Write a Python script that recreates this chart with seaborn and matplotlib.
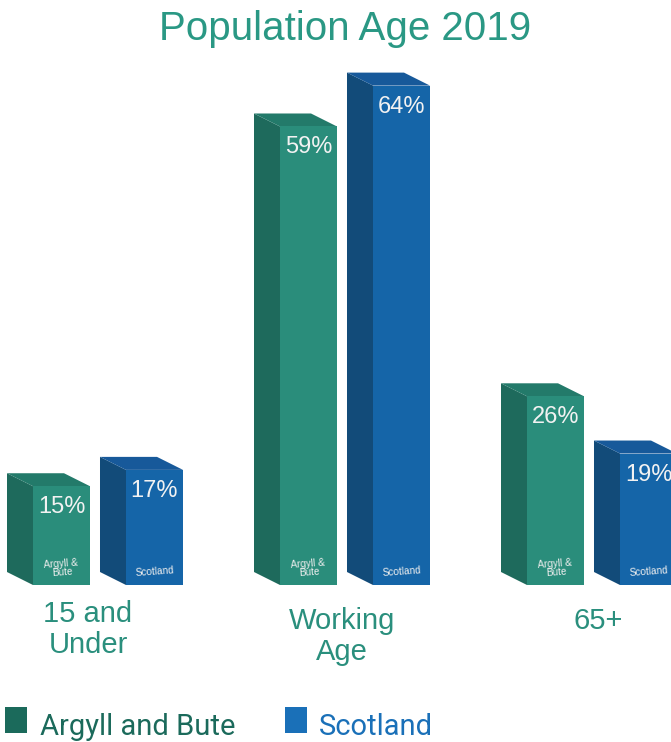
import matplotlib
matplotlib.use("Agg")
import matplotlib.pyplot as plt
from matplotlib.patches import Polygon, Rectangle
import numpy as np
import pandas as pd
import seaborn as sns

# ---- data -------------------------------------------------------------
age_groups = ["15 and\nUnder", "Working\nAge", "65+"]
regions = ["Argyll and Bute", "Scotland"]
argyll_values = [15, 59, 26]
scotland_values = [17, 64, 19]
bar_tags = ["Argyll &\nBute", "Scotland"]

front_colors = ["#2a8d7b", "#1565a8"]
side_colors = ["#1e6a5c", "#124b79"]
top_colors = ["#237a6a", "#17599a"]
legend_colors = ["#1b6a5b", "#1a70b8"]

df = pd.DataFrame({
    "group": age_groups * 2,
    "region": [regions[0]] * 3 + [regions[1]] * 3,
    "value": argyll_values + scotland_values,
})

# ---- figure -----------------------------------------------------------
sns.set_style("white")
plt.rcParams["font.family"] = ["Liberation Sans", "DejaVu Sans"]

W, H = 671, 742
fig = plt.figure(figsize=(W / 100, H / 100), dpi=100)
ax_bottom_px, ax_top_px = 585, 60
ax = fig.add_axes([0, (H - ax_bottom_px) / H, 1, (ax_bottom_px - ax_top_px) / H])

sns.barplot(data=df, x="group", y="value", hue="region", order=age_groups,
            hue_order=regions, palette=front_colors, width=0.753, gap=0.387,
            saturation=1, legend=False, ax=ax, linewidth=0, zorder=3)

px_per_y = 8.176
y0 = 2.92
ax.set_ylim(y0, y0 + (ax_bottom_px - ax_top_px) / px_per_y)
px_per_x = 247.0
ax.set_xlim(-108 / px_per_x, (W - 108) / px_per_x)
ax.axis("off")

# oblique depth offset for the box faces (pixels -> data units)
dx = -26 / px_per_x
dy = 13 / px_per_y

for k, container in enumerate(ax.containers):
    for bar in container:
        x = bar.get_x()
        w = bar.get_width()
        top = bar.get_y() + bar.get_height()
        base = y0
        side = Polygon([(x, base), (x, top), (x + dx, top + dy), (x + dx, base + dy)],
                       closed=True, facecolor=side_colors[k], edgecolor="none", zorder=2)
        lid = Polygon([(x, top), (x + w, top), (x + w + dx, top + dy), (x + dx, top + dy)],
                      closed=True, facecolor=top_colors[k], edgecolor="none", zorder=2)
        ax.add_patch(side)
        ax.add_patch(lid)

        # percentage near the top of the front face
        ax.annotate(f"{top:.0f}%", xy=(x + w / 2, top), xytext=(0, -10),
                    textcoords="offset pixels", ha="center", va="top",
                    fontsize=17, color="#f2f2f2", zorder=5,
                    annotation_clip=False)
        # small region tag at the bottom of the front face
        ax.annotate(bar_tags[k], xy=(x + w / 2, base), xytext=(0, 7),
                    textcoords="offset pixels", ha="center", va="bottom",
                    fontsize=7.2, color="#eeeeee", rotation=4,
                    linespacing=0.8, zorder=5)

# category labels under each group
label_dx = [-7, 0, 9]
label_dy = [-15, -22, -22]
for i, label in enumerate(age_groups):
    ax.annotate(label, xy=(i + dx / 2, y0), xytext=(label_dx[i], label_dy[i]),
                textcoords="offset pixels", ha="center", va="top",
                fontsize=21, color="#2a8f7d", linespacing=1.15,
                annotation_clip=False)

# title
fig.text(345 / W, 1 - 40 / H, "Population Age 2019", ha="center",
         va="baseline", fontsize=29, color="#2a9884")

# legend
legend_font = ["Roboto", "DejaVu Sans"]
legend_items = [(5, 40), (285, 319)]
for k, (sq_x, txt_x) in enumerate(legend_items):
    fig.add_artist(Rectangle((sq_x / W, 1 - 733 / H), 22 / W, 26 / H,
                             transform=fig.transFigure,
                             facecolor=legend_colors[k], edgecolor="none"))
    fig.text(txt_x / W, 1 - 735 / H, regions[k], ha="left", va="baseline",
             fontsize=21, color=legend_colors[k], family=legend_font)

fig.savefig("out.png", dpi=100)
